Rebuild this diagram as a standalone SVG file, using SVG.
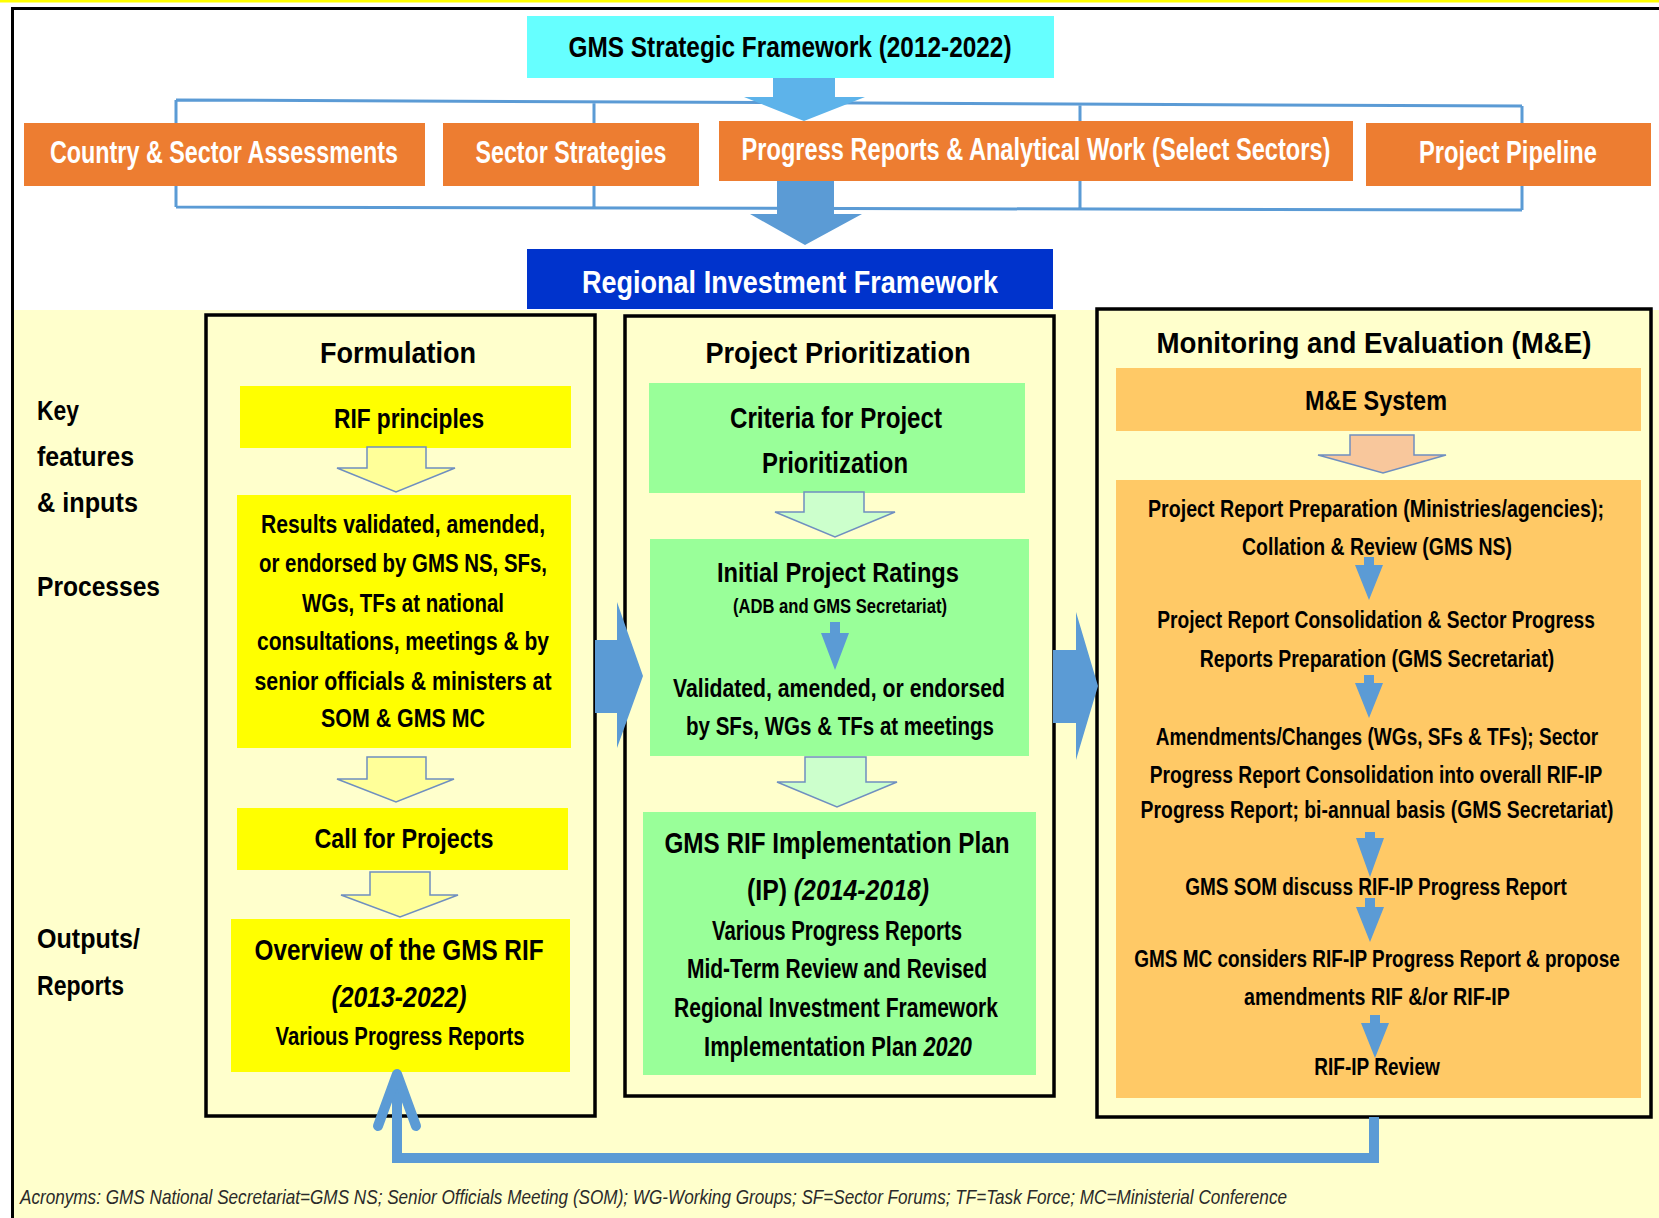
<svg xmlns="http://www.w3.org/2000/svg" width="1659" height="1218" viewBox="0 0 1659 1218">
<style>
text{font-family:"Liberation Sans",Arial,Helvetica,sans-serif;font-weight:bold;fill:#000;text-anchor:middle}
.wt{fill:#fff}
.st{text-anchor:start}
.it{font-style:italic}
.f20{font-size:20px}.f23{font-size:23px}.f25{font-size:25px}.f27{font-size:27px}.f28{font-size:28px}.f30{font-size:30px}.f32{font-size:32px}
.orange{fill:#ED7D31}
.panel{fill:#FFFFCC;stroke:#000;stroke-width:3.5}
.ybox{fill:#FFFF00}
.gbox{fill:#99FF99}
.obox{fill:#FFC966}
.bline{fill:none;stroke:#5B9BD5;stroke-width:3}
.bigarr{fill:#5B9BD5}
.hy{fill:#FFFF99;stroke:#6F8FC0;stroke-width:1.5}
.hg{fill:#CCFFCC;stroke:#6F8FC0;stroke-width:1.5}
.ho{fill:#F8C79C;stroke:#6F8FC0;stroke-width:1.5}
.fb{fill:none;stroke:#5B9BD5;stroke-width:10}
.acr{font-weight:normal;font-style:italic;fill:#2a2a2a;text-anchor:start;font-size:21px}
</style>
<g id="background">
<rect width="1659" height="1218" fill="#fff"/>
<rect x="0" y="0" width="1659" height="2.5" fill="#FFFF00"/>
<rect x="13" y="310" width="1646" height="908" fill="#FFFFCC"/>
<line x1="11" y1="8.5" x2="1659" y2="8.5" stroke="#000" stroke-width="3"/>
<line x1="12.5" y1="7" x2="12.5" y2="1218" stroke="#000" stroke-width="3"/>
</g>
<g id="brackets">
<path class="bline" d="M176,100 L1522,106 M176,207 L1522,210 M176,100 V207 M594,101 V208 M1080,103 V209 M1522,106 V210"/>
</g>
<g id="gms-sf">
<rect x="527" y="16" width="527" height="62" fill="#66FFFF"/>
<text class="f30" x="790" y="57" textLength="443" lengthAdjust="spacingAndGlyphs">GMS Strategic Framework (2012-2022)</text>
</g>
<g id="country-sector">
<rect class="orange" x="24" y="123" width="401" height="63"/>
<text class="f32 wt" transform="translate(224,163) scale(0.7297,1)">Country &amp; Sector Assessments</text>
</g>
<g id="sector-strategies">
<rect class="orange" x="443" y="123" width="256" height="63"/>
<text class="f32 wt" transform="translate(571,163) scale(0.7257,1)">Sector Strategies</text>
</g>
<g id="progress-reports">
<rect class="orange" x="719" y="121" width="634" height="60"/>
<text class="f32 wt" transform="translate(1036,160) scale(0.7375,1)">Progress Reports &amp; Analytical Work (Select Sectors)</text>
</g>
<g id="project-pipeline">
<rect class="orange" x="1366" y="123" width="285" height="63"/>
<text class="f32 wt" transform="translate(1508,163) scale(0.7414,1)">Project Pipeline</text>
</g>
<g id="rif">
<rect x="527" y="249" width="526" height="60" fill="#0033CC"/>
<text class="f32 wt" x="790" y="293" textLength="416" lengthAdjust="spacingAndGlyphs">Regional Investment Framework</text>
</g>
<g id="row-labels">
<text class="f28 st" x="37" y="420" textLength="42" lengthAdjust="spacingAndGlyphs">Key</text>
<text class="f28 st" x="37" y="466" textLength="97" lengthAdjust="spacingAndGlyphs">features</text>
<text class="f28 st" x="37" y="512" textLength="101" lengthAdjust="spacingAndGlyphs">&amp; inputs</text>
<text class="f28 st" x="37" y="596" textLength="123" lengthAdjust="spacingAndGlyphs">Processes</text>
<text class="f28 st" x="37" y="948" textLength="103" lengthAdjust="spacingAndGlyphs">Outputs/</text>
<text class="f28 st" x="37" y="995" textLength="87" lengthAdjust="spacingAndGlyphs">Reports</text>
</g>
<g id="formulation">
<rect class="panel" x="206" y="315" width="389" height="801"/>
<text class="f30" x="398" y="363" textLength="156" lengthAdjust="spacingAndGlyphs">Formulation</text>
<g id="rif-principles">
<rect class="ybox" x="240" y="386" width="331" height="62"/>
<text class="f28" x="409" y="428" textLength="150" lengthAdjust="spacingAndGlyphs">RIF principles</text>
</g>
<g id="results-validated">
<rect class="ybox" x="237" y="495" width="334" height="253"/>
<text class="f25" x="403" y="533" textLength="284" lengthAdjust="spacingAndGlyphs">Results validated, amended,</text>
<text class="f25" x="403" y="572" textLength="288" lengthAdjust="spacingAndGlyphs">or endorsed by GMS NS, SFs,</text>
<text class="f25" x="403" y="612" textLength="202" lengthAdjust="spacingAndGlyphs">WGs, TFs at national</text>
<text class="f25" x="403" y="650" textLength="292" lengthAdjust="spacingAndGlyphs">consultations, meetings &amp; by</text>
<text class="f25" x="403" y="690" textLength="297" lengthAdjust="spacingAndGlyphs">senior officials &amp; ministers at</text>
<text class="f25" x="403" y="727" textLength="164" lengthAdjust="spacingAndGlyphs">SOM &amp; GMS MC</text>
</g>
<g id="call-for-projects">
<rect class="ybox" x="237" y="808" width="331" height="62"/>
<text class="f28" x="404" y="848" textLength="179" lengthAdjust="spacingAndGlyphs">Call for Projects</text>
</g>
<g id="overview">
<rect class="ybox" x="231" y="919" width="339" height="153"/>
<text class="f30" x="399" y="960" textLength="289" lengthAdjust="spacingAndGlyphs">Overview of the GMS RIF</text>
<text class="f30 it" x="399" y="1007" textLength="135" lengthAdjust="spacingAndGlyphs">(2013-2022)</text>
<text class="f25" x="400" y="1045" textLength="249" lengthAdjust="spacingAndGlyphs">Various Progress Reports</text>
</g>
</g>
<g id="prioritization">
<rect class="panel" x="625" y="316" width="429" height="780"/>
<text class="f30" x="838" y="363" textLength="265" lengthAdjust="spacingAndGlyphs">Project Prioritization</text>
<g id="criteria">
<rect class="gbox" x="649" y="383" width="376" height="110"/>
<text class="f30" x="836" y="428" textLength="212" lengthAdjust="spacingAndGlyphs">Criteria for Project</text>
<text class="f30" x="835" y="473" textLength="146" lengthAdjust="spacingAndGlyphs">Prioritization</text>
</g>
<g id="initial-ratings">
<rect class="gbox" x="650" y="539" width="379" height="217"/>
<text class="f28" x="838" y="582" textLength="242" lengthAdjust="spacingAndGlyphs">Initial Project Ratings</text>
<text class="f20" x="840" y="613" textLength="214" lengthAdjust="spacingAndGlyphs">(ADB and GMS Secretariat)</text>
<text class="f25" x="839" y="697" textLength="332" lengthAdjust="spacingAndGlyphs">Validated, amended, or endorsed</text>
<text class="f25" x="840" y="735" textLength="308" lengthAdjust="spacingAndGlyphs">by SFs, WGs &amp; TFs at meetings</text>
</g>
<g id="rif-ip">
<rect class="gbox" x="643" y="812" width="393" height="263"/>
<text class="f30" x="837" y="853" textLength="345" lengthAdjust="spacingAndGlyphs">GMS RIF Implementation Plan</text>
<text class="f30" transform="translate(838,900) scale(0.827,1)">(IP) <tspan class="it">(2014-2018)</tspan></text>
<text class="f27" x="837" y="940" textLength="250" lengthAdjust="spacingAndGlyphs">Various Progress Reports</text>
<text class="f27" x="837" y="978" textLength="300" lengthAdjust="spacingAndGlyphs">Mid-Term Review and Revised</text>
<text class="f27" x="836" y="1017" textLength="324" lengthAdjust="spacingAndGlyphs">Regional Investment Framework</text>
<text class="f27" transform="translate(838,1056) scale(0.808,1)">Implementation Plan <tspan class="it">2020</tspan></text>
</g>
</g>
<g id="monitoring">
<rect class="panel" x="1097" y="309" width="554" height="808"/>
<text class="f30" x="1374" y="353" textLength="435" lengthAdjust="spacingAndGlyphs">Monitoring and Evaluation (M&amp;E)</text>
<g id="me-system">
<rect class="obox" x="1116" y="368" width="525" height="63"/>
<text class="f28" x="1376" y="410" textLength="142" lengthAdjust="spacingAndGlyphs">M&amp;E System</text>
</g>
<g id="me-process">
<rect class="obox" x="1116" y="480" width="525" height="618"/>
<text class="f23" transform="translate(1376,517) scale(0.854,1)">Project Report Preparation (Ministries/agencies);</text>
<text class="f23" transform="translate(1377,555) scale(0.845,1)">Collation &amp; Review (GMS NS)</text>
<text class="f23" transform="translate(1376,628) scale(0.834,1)">Project Report Consolidation &amp; Sector Progress</text>
<text class="f23" transform="translate(1377,667) scale(0.844,1)">Reports Preparation (GMS Secretariat)</text>
<text class="f23" transform="translate(1377,745) scale(0.829,1)">Amendments/Changes (WGs, SFs &amp; TFs); Sector</text>
<text class="f23" transform="translate(1376,783) scale(0.836,1)">Progress Report Consolidation into overall RIF-IP</text>
<text class="f23" transform="translate(1377,818) scale(0.843,1)">Progress Report; bi-annual basis (GMS Secretariat)</text>
<text class="f23" transform="translate(1376,895) scale(0.826,1)">GMS SOM discuss RIF-IP Progress Report</text>
<text class="f23" transform="translate(1377,967) scale(0.825,1)">GMS MC considers RIF-IP Progress Report &amp; propose</text>
<text class="f23" transform="translate(1377,1005) scale(0.857,1)">amendments RIF &amp;/or RIF-IP</text>
<text class="f23" transform="translate(1377,1075) scale(0.828,1)">RIF-IP Review</text>
</g>
</g>
<g id="connectors">
<path d="M773,78 H835 V97 H865 L804,121 L744,97 H773 Z" fill="#5DB3EA"/>
<path class="bigarr" d="M777,181 H834 V214 H862 L805,245 L750,214 H777 Z"/>
<path class="bigarr" d="M595,640 H617 V602 L643,676 L617,748 V713 H595 Z"/>
<path class="bigarr" d="M1053,650 H1076 V612 L1098,686 L1076,760 V723 H1053 Z"/>
<path class="hy" d="M367,447 H426 V468 H455 L396,492 L337,468 H367 Z"/>
<path class="hy" d="M367,757 H426 V779 H454 L396,802 L337,779 H367 Z"/>
<path class="hy" d="M370,872 H430 V895 H458 L400,917 L341,895 H370 Z"/>
<path class="hg" d="M804,492 H864 V512 H895 L835,537 L775,512 H804 Z"/>
<path class="hg" d="M805,757 H866 V782 H897 L837,807 L777,782 H805 Z"/>
<path class="ho" d="M1350,435 H1414 V455 H1446 L1383,473 L1318,455 H1350 Z"/>
<path class="bigarr" d="M830,622 H840 V633 H849 L835,670 L821,633 H830 Z"/>
<path class="bigarr" d="M1364,557 H1374 V565 H1383 L1369,600 L1355,565 H1364 Z"/>
<path class="bigarr" d="M1364,675 H1374 V683 H1383 L1369,718 L1355,683 H1364 Z"/>
<path class="bigarr" d="M1365,832 H1375 V838 H1384 L1370,877 L1356,838 H1365 Z"/>
<path class="bigarr" d="M1365,898 H1375 V907 H1384 L1370,942 L1356,907 H1365 Z"/>
<path class="bigarr" d="M1370,1015 H1380 V1023 H1389 L1375,1058 L1361,1023 H1370 Z"/>
<path class="fb" d="M1374,1117 V1158 H397 V1080"/>
<path class="fb" d="M378,1126 L397,1074 L416,1126" stroke-linecap="round" stroke-linejoin="round"/>
</g>
<g id="acronyms">
<text class="acr" x="20" y="1204" textLength="1267" lengthAdjust="spacingAndGlyphs">Acronyms: GMS National Secretariat=GMS NS; Senior Officials Meeting (SOM); WG-Working Groups; SF=Sector Forums; TF=Task Force; MC=Ministerial Conference</text>
</g>
</svg>
